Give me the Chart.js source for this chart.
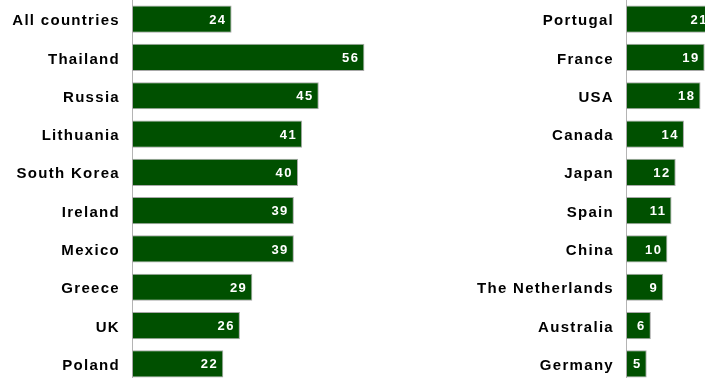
<!DOCTYPE html>
<html>
<head>
<meta charset="utf-8">
<script src="https://cdn.jsdelivr.net/npm/chart.js@4.4.0/dist/chart.umd.min.js"></script>
<style>
  html, body { margin: 0; padding: 0; background: #fff; overflow: hidden; width: 705px; height: 378px; }
  #leftBox { position: absolute; left: 0; top: 0; width: 381px; height: 383px; }
  #rightBox { position: absolute; left: 400px; top: 0; width: 305px; height: 383px; }
</style>
</head>
<body>
<div id="leftBox"><canvas id="leftChart"></canvas></div>
<div id="rightBox"><canvas id="rightChart"></canvas></div>
<script>
const leftCountries = ['All countries', 'Thailand', 'Russia', 'Lithuania', 'South Korea', 'Ireland', 'Mexico', 'Greece', 'UK', 'Poland'];
const leftValues = [24, 56, 45, 41, 40, 39, 39, 29, 26, 22];

const rightCountries = ['Portugal', 'France', 'USA', 'Canada', 'Japan', 'Spain', 'China', 'The Netherlands', 'Australia', 'Germany'];
const rightValues = [21, 19, 18, 14, 12, 11, 10, 9, 6, 5];

const barGreen = '#005000';
const fontFamily = '"Liberation Sans", Arial, sans-serif';

// spaced out lettering like the original
const spacing = {
    id: 'spacing',
    beforeDraw(chart) {
        chart.ctx.letterSpacing = '1.3px';
    }
};

// white value inside the end of each bar
const valueLabels = {
    id: 'valueLabels',
    afterDatasetsDraw(chart) {
        const ctx = chart.ctx;
        const meta = chart.getDatasetMeta(0);
        const values = chart.data.datasets[0].data;
        ctx.save();
        ctx.letterSpacing = '1.5px';
        ctx.font = 'bold 13px ' + fontFamily;
        ctx.fillStyle = '#ffffff';
        ctx.textAlign = 'right';
        ctx.textBaseline = 'middle';
        meta.data.forEach((bar, i) => {
            ctx.fillText(values[i], bar.x - 5, bar.y + 1);
        });
        ctx.restore();
    }
};

function makeChart(canvasId, labels, values, axisWidth, maxValue) {
    return new Chart(document.getElementById(canvasId), {
        type: 'bar',
        data: {
            labels: labels,
            datasets: [{
                data: values,
                backgroundColor: barGreen,
                borderColor: '#a8a8a8',
                borderWidth: 1,
                borderSkipped: false,
                categoryPercentage: 1,
                barPercentage: 0.71
            }]
        },
        options: {
            indexAxis: 'y',
            responsive: true,
            maintainAspectRatio: false,
            animation: false,
            layout: { padding: 0 },
            plugins: {
                legend: { display: false },
                tooltip: { enabled: false }
            },
            scales: {
                x: {
                    display: false,
                    min: 0,
                    max: maxValue
                },
                y: {
                    afterFit(scale) {
                        scale.width = axisWidth;
                        scale.paddingTop = 0;
                        scale.paddingBottom = 0;
                    },
                    grid: { display: false, drawTicks: false },
                    border: { display: true, color: '#b4b4b4', width: 1 },
                    ticks: {
                        padding: 12,
                        labelOffset: 2,
                        color: '#000000',
                        font: { family: fontFamily, size: 15, weight: 'bold' }
                    }
                }
            }
        },
        plugins: [spacing, valueLabels]
    });
}

makeChart('leftChart', leftCountries, leftValues, 132, 60);
makeChart('rightChart', rightCountries, rightValues, 226, 19.08);
</script>
</body>
</html>
